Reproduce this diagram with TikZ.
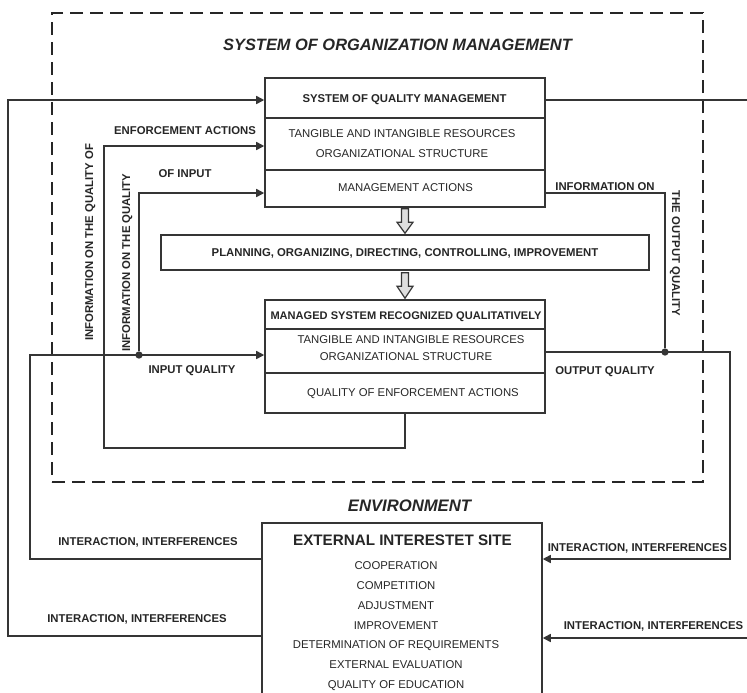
\documentclass[tikz,border=0pt]{standalone}
\usepackage{fontspec}
\setmainfont{Liberation Sans}
\usetikzlibrary{arrows.meta,fit,calc}
\definecolor{ink}{HTML}{353535}
\definecolor{txt}{HTML}{262626}
\definecolor{shade}{HTML}{DEDEDE}
\begin{document}
\begin{tikzpicture}[x=0.75pt,y=-0.75pt,
  wire/.style={draw=ink,line width=1.15pt},
  feed/.style={wire,-{Triangle[length=6pt,width=6pt]}},
  frame/.style={draw=ink,line width=1.15pt,inner sep=0pt},
  orgframe/.style={draw=black!85,line width=2.2pt,dash pattern=on 10pt off 5pt,inner sep=0pt},
  lbl/.style={text=txt,font={\fontsize{8.5pt}{10pt}\selectfont},inner sep=0pt,anchor=base},
  blbl/.style={lbl,font={\fontsize{8.5pt}{10pt}\selectfont\bfseries}},
  head/.style={lbl,font={\fontsize{12.3pt}{14pt}\selectfont\bfseries\itshape}},
  junction/.style={circle,fill=ink,inner sep=0pt,minimum size=5.5pt},
  hollow/.style={draw=ink,line width=0.9pt,fill=shade,line join=miter}
]
\useasboundingbox (0,0) rectangle (747,693);
\clip (0,0) rectangle (747,693);

% organisation boundary
\node[orgframe,fit={(52,13) (703,482)}] (org) {};
\node[head] (orgtitle) at (397.5,50) {SYSTEM OF ORGANIZATION MANAGEMENT};

% system of quality management
\node[frame,fit={(265,78) (545,207)}] (sqm) {};
\draw[wire] (sqm.west |- 0,118) -- (sqm.east |- 0,118);
\draw[wire] (sqm.west |- 0,170) -- (sqm.east |- 0,170);
\node[blbl] (sqmtitle) at (404.5,102) {SYSTEM OF QUALITY MANAGEMENT};
\node[lbl] (sqmres) at (402,137) {TANGIBLE AND INTANGIBLE RESOURCES};
\node[lbl] (sqmstr) at (402,157) {ORGANIZATIONAL STRUCTURE};
\node[lbl] (sqmact) at (405.5,191) {MANAGEMENT ACTIONS};

% management functions
\node[frame,fit={(161,235) (649,270)}] (plan) {};
\node[blbl] (plantext) at (405,256.5) {PLANNING, ORGANIZING, DIRECTING, CONTROLLING, IMPROVEMENT};

% managed system
\node[frame,fit={(265,300) (545,413)}] (msys) {};
\draw[wire] (msys.west |- 0,329) -- (msys.east |- 0,329);
\draw[wire] (msys.west |- 0,373) -- (msys.east |- 0,373);
\node[blbl,font={\fontsize{8.3pt}{10pt}\selectfont\bfseries}] (msystitle) at (406,319) {MANAGED SYSTEM RECOGNIZED QUALITATIVELY};
\node[lbl] (msysres) at (411,343) {TANGIBLE AND INTANGIBLE RESOURCES};
\node[lbl] (msysstr) at (406,360) {ORGANIZATIONAL STRUCTURE};
\node[lbl] (msysq) at (413,396) {QUALITY OF ENFORCEMENT ACTIONS};

% hollow block arrows between the boxes
\draw[hollow] ($(sqm.south)+(-3.5,1)$) -- ($(plan.north)+(-3.5,-12)$) -- ($(plan.north)+(-8,-12)$)
  -- ($(plan.north)+(0,-1)$) -- ($(plan.north)+(8,-12)$) -- ($(plan.north)+(3.5,-12)$)
  -- ($(sqm.south)+(3.5,1)$) -- cycle;
\draw[hollow] ($(plan.south)+(-3.5,2)$) -- ($(msys.north)+(-3.5,-13)$) -- ($(msys.north)+(-8,-13)$)
  -- ($(msys.north)+(0,-1)$) -- ($(msys.north)+(8,-13)$) -- ($(msys.north)+(3.5,-13)$)
  -- ($(plan.south)+(3.5,2)$) -- cycle;

% environment
\node[head,font={\fontsize{12.5pt}{14pt}\selectfont\bfseries\itshape}] (envtitle) at (409.5,511) {ENVIRONMENT};
\node[frame,fit={(262,523) (542,730)}] (ext) {};
\node[blbl,font={\fontsize{11.4pt}{13pt}\selectfont\bfseries}] (exttitle) at (402.5,545) {EXTERNAL INTERESTET SITE};
\node[lbl] (e1) at (396,569) {COOPERATION};
\node[lbl] (e2) at (396,589) {COMPETITION};
\node[lbl] (e3) at (396,609) {ADJUSTMENT};
\node[lbl] (e4) at (396,629) {IMPROVEMENT};
\node[lbl] (e5) at (396,648) {DETERMINATION OF REQUIREMENTS};
\node[lbl] (e6) at (396,668) {EXTERNAL EVALUATION};
\node[lbl] (e7) at (396,688) {QUALITY OF EDUCATION};

% junctions
\node[junction] (jin) at (139,355) {};
\node[junction] (jout) at (665,352) {};

% connectors
\draw[feed] (ext.west |- 0,636) -| (8,100) -- (sqm.west |- 0,100);
\draw[feed] (sqm.east |- 0,100) -| (760,638) -- (ext.east |- 0,638);
\draw[feed] (ext.west |- 0,559) -| (30,355) -- (msys.west |- 0,355);
\draw[feed] (jin) |- (sqm.west |- 0,193);
\draw[feed] (msys.south) -- ++(0,34) -| (104,146) -- (sqm.west |- 0,146);
\draw[feed] (msys.east |- 0,352) -| (730,559) -- (ext.east |- 0,559);
\draw[wire] (jout) |- (sqm.east |- 0,193);

% connector labels
\node[blbl] (lenf) at (185,134) {ENFORCEMENT ACTIONS};
\node[blbl] (lofin) at (185,177) {OF INPUT};
\node[blbl] (linq) at (192,373) {INPUT QUALITY};
\node[blbl] (linfo) at (605,190) {INFORMATION ON};
\node[blbl] (loutq) at (605,374) {OUTPUT QUALITY};
\node[blbl,rotate=90] (lv1) at (93,242.5) {INFORMATION ON THE QUALITY OF};
\node[blbl,rotate=90] (lv2) at (130,262.5) {INFORMATION ON THE QUALITY};
\node[blbl,rotate=-90] (lv3) at (672,253.5) {THE OUTPUT QUALITY};
\node[blbl] (li1) at (148,545) {INTERACTION, INTERFERENCES};
\node[blbl] (li2) at (137,622.5) {INTERACTION, INTERFERENCES};
\node[blbl] (li3) at (637.5,551) {INTERACTION, INTERFERENCES};
\node[blbl] (li4) at (653.5,629) {INTERACTION, INTERFERENCES};
\end{tikzpicture}
\end{document}
